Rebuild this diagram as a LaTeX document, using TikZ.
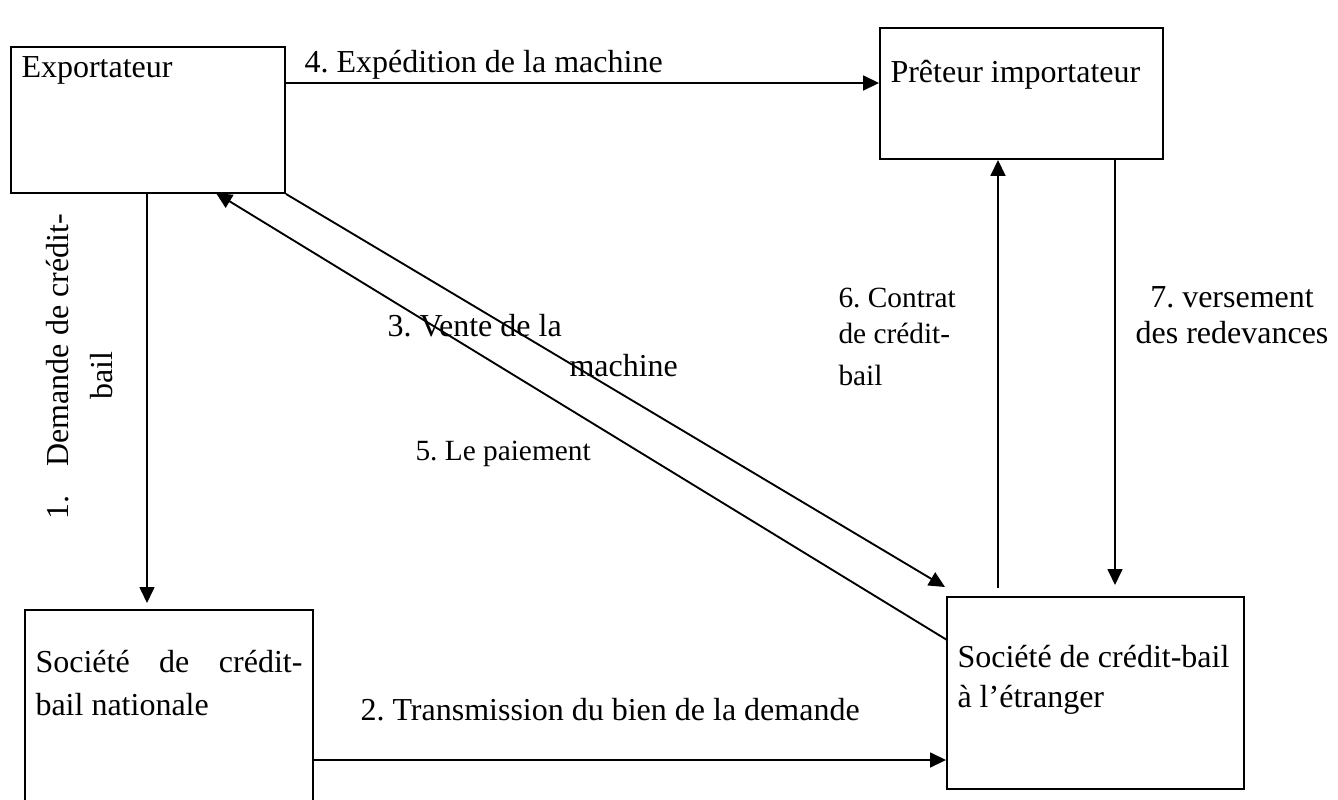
\documentclass[tikz,border=0pt]{standalone}
\usepackage{fontspec}
\setmainfont{Liberation Serif}
\usetikzlibrary{arrows.meta,fit}
\frenchspacing
\begin{document}
\begin{tikzpicture}[x=0.375pt,y=-0.375pt,
  box/.style={draw,line width=0.7pt,inner sep=0pt,rectangle},
  lbl/.style={anchor=base west,inner sep=0pt,font=\fontsize{12}{14}\selectfont},
  slbl/.style={anchor=base west,inner sep=0pt,font=\fontsize{11}{13}\selectfont},
  clbl/.style={anchor=base,inner sep=0pt,font=\fontsize{12}{14}\selectfont},
  conn/.style={line width=0.7pt,-{Triangle[length=6pt,width=5.6pt]}}]
\useasboundingbox (0,0) rectangle (1338,799);
% boxes
\node[box,fit={(11,47) (285,193)}] (exp) {};
\node[box,fit={(880,28) (1163,159)}] (pret) {};
\node[box,fit={(25,610) (313,815)}] (nat) {};
\node[box,fit={(947,597) (1244,789)}] (etr) {};
% box texts
\node[lbl] (texp) at (21,77) {Exportateur};
\node[lbl] (tpret) at (890,82) {Prêteur importateur};
\node[lbl] (tnat1) at (35,672) {\makebox[100.1pt][l]{Société\hfill de\hfill crédit-}};
\node[lbl] (tnat2) at (35,715) {bail nationale};
\node[lbl] (tetr1) at (957,667) {Société de crédit-bail};
\node[lbl] (tetr2) at (957,707) {à l’étranger};
% connectors
\coordinate (a4) at (285,83);
\draw[conn] (a4) -- (a4 -| pret.west);
\coordinate (a1) at (147,193);
\coordinate (t1) at (147,603);
\draw[conn] (a1) -- (t1);
\coordinate (a2) at (313,760);
\draw[conn] (a2) -- (a2 -| etr.west);
\coordinate (t3) at (945,587);
\draw[conn] (exp.south east) -- (t3);
\coordinate (s5) at (947,640);
\coordinate (t5) at (216,193);
\draw[conn] (s5) -- (t5);
\coordinate (s6) at (998,588);
\draw[conn] (s6) -- (s6 |- pret.south);
\coordinate (s7) at (1115,159);
\coordinate (t7) at (1115,585);
\draw[conn] (s7) -- (t7);
% connector labels
\node[lbl] (l4) at (304,72) {4. Expédition de la machine};
\node[lbl] (l2) at (360,720) {2. Transmission du bien de la demande};
\node[lbl] (l3a) at (387,336) {3. Vente de la};
\node[lbl] (l3b) at (569,376) {machine};
\node[slbl] (l5) at (415,460) {5. Le paiement};
\node[slbl] (l6a) at (838,307) {6. Contrat};
\node[slbl] (l6b) at (838,343) {de crédit-};
\node[slbl] (l6c) at (838,385) {bail};
\node[clbl] (l7a) at (1232,307) {7. versement};
\node[clbl] (l7b) at (1232,343) {des redevances};
\node[lbl,rotate=90] (l1a) at (68,520) {1.};
\node[lbl,rotate=90] (l1b) at (68,467) {Demande de crédit-};
\node[lbl,rotate=90] (l1c) at (112,400) {bail};
\end{tikzpicture}
\end{document}
